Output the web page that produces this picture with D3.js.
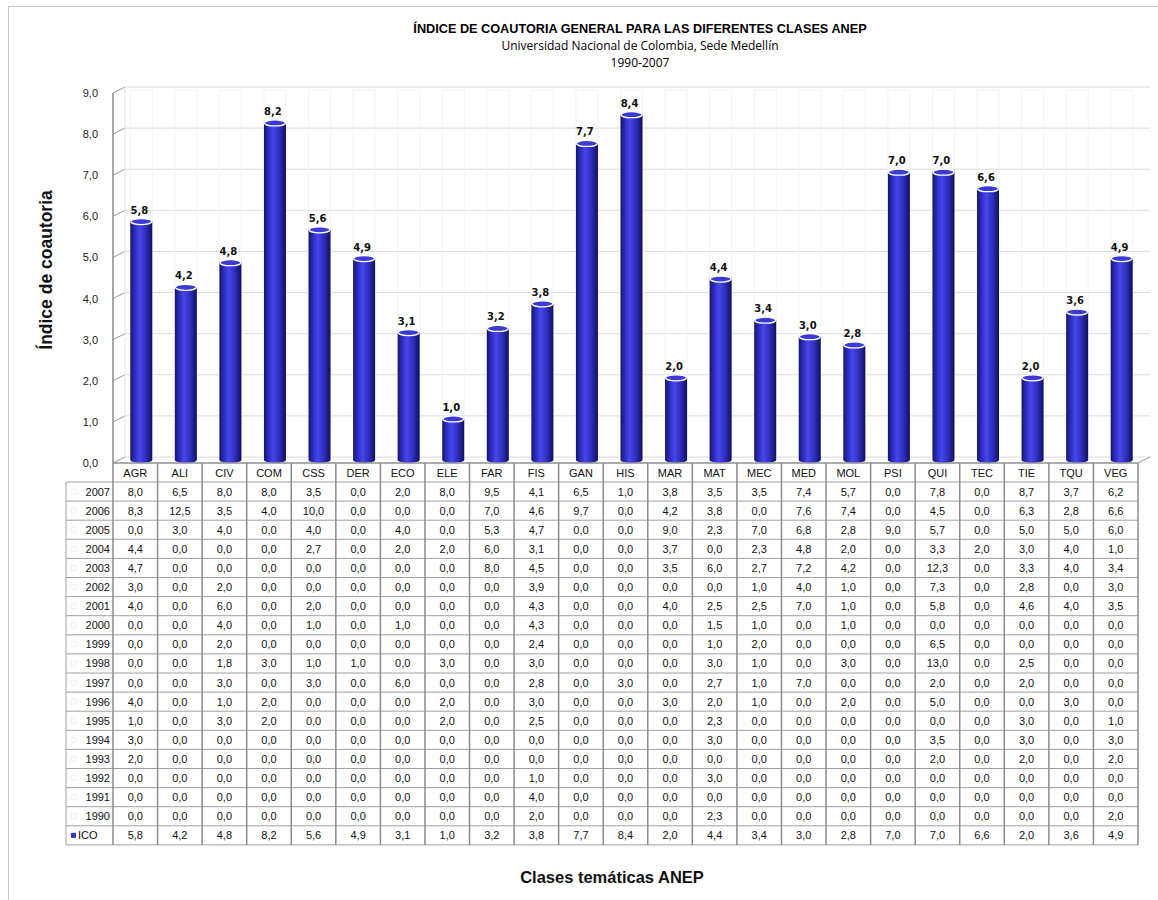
<!DOCTYPE html>
<html><head><meta charset="utf-8">
<script src="https://cdn.jsdelivr.net/npm/d3@7"></script>
<style>body{margin:0;background:#fff}svg{display:block}</style>
</head><body>
<svg id="c" width="1158" height="900"></svg>
<script>
const categories = ["AGR","ALI","CIV","COM","CSS","DER","ECO","ELE","FAR","FIS","GAN","HIS","MAR","MAT","MEC","MED","MOL","PSI","QUI","TEC","TIE","TQU","VEG"];
const ico = [5.8,4.2,4.8,8.2,5.6,4.9,3.1,1.0,3.2,3.8,7.7,8.4,2.0,4.4,3.4,3.0,2.8,7.0,7.0,6.6,2.0,3.6,4.9];
const years = ["2007","2006","2005","2004","2003","2002","2001","2000","1999","1998","1997","1996","1995","1994","1993","1992","1991","1990"];
const v2007 = [8.0,6.5,8.0,8.0,3.5,0.0,2.0,8.0,9.5,4.1,6.5,1.0,3.8,3.5,3.5,7.4,5.7,0.0,7.8,0.0,8.7,3.7,6.2];
const v2006 = [8.3,12.5,3.5,4.0,10.0,0.0,0.0,0.0,7.0,4.6,9.7,0.0,4.2,3.8,0.0,7.6,7.4,0.0,4.5,0.0,6.3,2.8,6.6];
const v2005 = [0.0,3.0,4.0,0.0,4.0,0.0,4.0,0.0,5.3,4.7,0.0,0.0,9.0,2.3,7.0,6.8,2.8,9.0,5.7,0.0,5.0,5.0,6.0];
const v2004 = [4.4,0.0,0.0,0.0,2.7,0.0,2.0,2.0,6.0,3.1,0.0,0.0,3.7,0.0,2.3,4.8,2.0,0.0,3.3,2.0,3.0,4.0,1.0];
const v2003 = [4.7,0.0,0.0,0.0,0.0,0.0,0.0,0.0,8.0,4.5,0.0,0.0,3.5,6.0,2.7,7.2,4.2,0.0,12.3,0.0,3.3,4.0,3.4];
const v2002 = [3.0,0.0,2.0,0.0,0.0,0.0,0.0,0.0,0.0,3.9,0.0,0.0,0.0,0.0,1.0,4.0,1.0,0.0,7.3,0.0,2.8,0.0,3.0];
const v2001 = [4.0,0.0,6.0,0.0,2.0,0.0,0.0,0.0,0.0,4.3,0.0,0.0,4.0,2.5,2.5,7.0,1.0,0.0,5.8,0.0,4.6,4.0,3.5];
const v2000 = [0.0,0.0,4.0,0.0,1.0,0.0,1.0,0.0,0.0,4.3,0.0,0.0,0.0,1.5,1.0,0.0,1.0,0.0,0.0,0.0,0.0,0.0,0.0];
const v1999 = [0.0,0.0,2.0,0.0,0.0,0.0,0.0,0.0,0.0,2.4,0.0,0.0,0.0,1.0,2.0,0.0,0.0,0.0,6.5,0.0,0.0,0.0,0.0];
const v1998 = [0.0,0.0,1.8,3.0,1.0,1.0,0.0,3.0,0.0,3.0,0.0,0.0,0.0,3.0,1.0,0.0,3.0,0.0,13.0,0.0,2.5,0.0,0.0];
const v1997 = [0.0,0.0,3.0,0.0,3.0,0.0,6.0,0.0,0.0,2.8,0.0,3.0,0.0,2.7,1.0,7.0,0.0,0.0,2.0,0.0,2.0,0.0,0.0];
const v1996 = [4.0,0.0,1.0,2.0,0.0,0.0,0.0,2.0,0.0,3.0,0.0,0.0,3.0,2.0,1.0,0.0,2.0,0.0,5.0,0.0,0.0,3.0,0.0];
const v1995 = [1.0,0.0,3.0,2.0,0.0,0.0,0.0,2.0,0.0,2.5,0.0,0.0,0.0,2.3,0.0,0.0,0.0,0.0,0.0,0.0,3.0,0.0,1.0];
const v1994 = [3.0,0.0,0.0,0.0,0.0,0.0,0.0,0.0,0.0,0.0,0.0,0.0,0.0,3.0,0.0,0.0,0.0,0.0,3.5,0.0,3.0,0.0,3.0];
const v1993 = [2.0,0.0,0.0,0.0,0.0,0.0,0.0,0.0,0.0,0.0,0.0,0.0,0.0,0.0,0.0,0.0,0.0,0.0,2.0,0.0,2.0,0.0,2.0];
const v1992 = [0.0,0.0,0.0,0.0,0.0,0.0,0.0,0.0,0.0,1.0,0.0,0.0,0.0,3.0,0.0,0.0,0.0,0.0,0.0,0.0,0.0,0.0,0.0];
const v1991 = [0.0,0.0,0.0,0.0,0.0,0.0,0.0,0.0,0.0,4.0,0.0,0.0,0.0,0.0,0.0,0.0,0.0,0.0,0.0,0.0,0.0,0.0,0.0];
const v1990 = [0.0,0.0,0.0,0.0,0.0,0.0,0.0,0.0,0.0,2.0,0.0,0.0,0.0,2.3,0.0,0.0,0.0,0.0,0.0,0.0,0.0,0.0,2.0];
const yearValues = [v2007,v2006,v2005,v2004,v2003,v2002,v2001,v2000,v1999,v1998,v1997,v1996,v1995,v1994,v1993,v1992,v1991,v1990];
const yTicks = [0,1,2,3,4,5,6,7,8,9];
const title = "ÍNDICE DE COAUTORIA GENERAL PARA LAS DIFERENTES CLASES ANEP";
const subtitle1 = "Universidad Nacional de Colombia, Sede Medellín";
const subtitle2 = "1990-2007";
const yTitle = "Índice de coautoria";
const xTitle = "Clases temáticas ANEP";

const fmt = v => d3.format(".1f")(v).replace(".", ",");
const svg = d3.select("#c");
const FONT = "'Liberation Sans', Arial, sans-serif";
const dx = 12, dy = -6;

const x = d3.scaleBand().domain(categories).range([113, 1138]).paddingInner(0).paddingOuter(0);
const y = d3.scaleLinear().domain([0, 9]).range([463, 93]);
const bw = x.bandwidth();

// outer frame
svg.append("rect").attr("x", 8.5).attr("y", 6.5).attr("width", 1160).attr("height", 900)
  .attr("fill", "#fff").attr("stroke", "#c8c8c8");

// titles
const cx0 = 640;
svg.append("text").attr("x", cx0).attr("y", 33).attr("text-anchor", "middle")
  .attr("font-family", "'Liberation Sans Narrow', 'Liberation Sans', sans-serif").attr("font-weight", "bold")
  .attr("font-size", 12.7).text(title);
svg.append("text").attr("x", cx0).attr("y", 50).attr("text-anchor", "middle")
  .attr("font-family", "'Open Sans', sans-serif").attr("font-size", 12).text(subtitle1);
svg.append("text").attr("x", cx0).attr("y", 67).attr("text-anchor", "middle")
  .attr("font-family", "'Open Sans', sans-serif").attr("font-size", 12).text(subtitle2);

// defs
const defs = svg.append("defs");
const g1 = defs.append("linearGradient").attr("id", "cyl").attr("x1", "0").attr("x2", "1").attr("y1", "0").attr("y2", "0");
[[0, "#15156e"], [0.22, "#2f2fc4"], [0.42, "#4646ec"], [0.7, "#2e2ebd"], [1, "#10105e"]].forEach(s =>
  g1.append("stop").attr("offset", s[0]).attr("stop-color", s[1]));

// back wall grid
const grid = svg.append("g");
yTicks.forEach(t => {
  grid.append("line").attr("x1", 113 + dx).attr("x2", 1138 + dx)
    .attr("y1", y(t) + dy).attr("y2", y(t) + dy).attr("stroke", "#dcdcdc").attr("stroke-width", 1);
  grid.append("line").attr("x1", 113).attr("x2", 113 + dx)
    .attr("y1", y(t)).attr("y2", y(t) + dy).attr("stroke", "#999").attr("stroke-width", 1);
  grid.append("text").attr("x", 98).attr("y", y(t) + 4).attr("text-anchor", "end")
    .attr("font-family", FONT).attr("font-size", 11).attr("fill", "#222").text(fmt(t));
});
grid.append("line").attr("x1", 113 + dx).attr("x2", 113 + dx).attr("y1", y(0) + dy).attr("y2", y(9) + dy)
  .attr("stroke", "#e4e4e4");
grid.append("line").attr("x1", 113).attr("x2", 113).attr("y1", y(0)).attr("y2", y(9))
  .attr("stroke", "#8a8a8a").attr("stroke-width", 1.5);
grid.append("line").attr("x1", 1138).attr("x2", 1138 + dx).attr("y1", y(0)).attr("y2", y(0) + dy)
  .attr("stroke", "#999");

// faint ghost cylinders
const ghost = svg.append("g");
categories.forEach(c => {
  const cx = x(c) + bw / 2 + dx / 2;
  ghost.append("rect").attr("x", cx - 11).attr("y", y(9) + dy / 2).attr("width", 22)
    .attr("height", y(0) - y(9)).attr("fill", "none").attr("stroke", "#f3f3f3");
});

// bars
const bars = svg.append("g");
categories.forEach((c, i) => {
  const v = ico[i];
  const cx = x(c) + bw / 2 + dx / 2;
  const rx = 11, ry = 3;
  const top = y(v) + dy / 2, bot = y(0) + dy / 2;
  bars.append("path")
    .attr("d", `M${cx - rx},${top} L${cx - rx},${bot} A${rx},${ry} 0 0 0 ${cx + rx},${bot} L${cx + rx},${top} Z`)
    .attr("fill", "url(#cyl)");
  bars.append("ellipse").attr("cx", cx).attr("cy", top).attr("rx", rx - 0.5).attr("ry", ry)
    .attr("fill", "#3a3ad6").attr("stroke", "#fff").attr("stroke-width", 1.3);
  bars.append("text").attr("x", cx - 2).attr("y", top - 8).attr("text-anchor", "middle")
    .attr("font-family", "'DejaVu Sans', Verdana, sans-serif").attr("font-weight", "bold")
    .attr("font-size", 10).attr("fill", "#111").text(fmt(v));
});

// data table
const tb = svg.append("g");
const tTop = 463, hH = 19, rH = 19.1, lblX0 = 66;
const rows = years.map((yr, i) => ({ label: yr, values: yearValues[i], key: false }))
  .concat([{ label: "ICO", values: ico, key: true }]);
const tBot = tTop + hH + rows.length * rH;
categories.forEach(c => {
  tb.append("text").attr("x", x(c) + bw / 2).attr("y", tTop + 14).attr("text-anchor", "middle")
    .attr("font-family", FONT).attr("font-size", 11).attr("fill", "#111").text(c);
});
rows.forEach((r, i) => {
  const y0 = tTop + hH + i * rH;
  if (r.key) {
    tb.append("rect").attr("x", 71).attr("y", y0 + rH / 2 - 2.5).attr("width", 5).attr("height", 5).attr("fill", "#3333cc");
    tb.append("text").attr("x", 78).attr("y", y0 + rH / 2 + 4).attr("font-family", FONT)
      .attr("font-size", 11).attr("fill", "#111").text(r.label);
  } else {
    tb.append("rect").attr("x", 71).attr("y", y0 + rH / 2 - 2.5).attr("width", 5).attr("height", 5)
      .attr("fill", "none").attr("stroke", "#f0f0f0");
    tb.append("text").attr("x", 110).attr("y", y0 + rH / 2 + 4).attr("text-anchor", "end")
      .attr("font-family", FONT).attr("font-size", 11).attr("fill", "#111").text(r.label);
  }
  r.values.forEach((v, j) => {
    const c = categories[j];
    tb.append("text").attr("x", x(c) + bw / 2).attr("y", y0 + rH / 2 + 4).attr("text-anchor", "middle")
      .attr("font-family", FONT).attr("font-size", 11).attr("fill", "#111").text(fmt(v));
  });
});
const lc = "#a0a0a0";
tb.append("line").attr("x1", 113).attr("x2", 1138).attr("y1", tTop).attr("y2", tTop).attr("stroke", "#909090").attr("stroke-width", 1.5);
for (let i = 0; i <= rows.length; i++) {
  const yy = tTop + hH + i * rH;
  tb.append("line").attr("x1", lblX0).attr("x2", 1138).attr("y1", yy).attr("y2", yy).attr("stroke", lc);
}
tb.append("line").attr("x1", lblX0).attr("x2", lblX0).attr("y1", tTop + hH).attr("y2", tBot).attr("stroke", lc);
categories.forEach(c => {
  tb.append("line").attr("x1", x(c)).attr("x2", x(c)).attr("y1", tTop).attr("y2", tBot).attr("stroke", "#8c8c8c").attr("stroke-width", 1.5);
});
tb.append("line").attr("x1", 1138).attr("x2", 1138).attr("y1", tTop).attr("y2", tBot).attr("stroke", "#8c8c8c").attr("stroke-width", 1.5);

// axis titles
svg.append("text").attr("transform", "translate(52,270) rotate(-90)").attr("text-anchor", "middle")
  .attr("font-family", FONT).attr("font-weight", "bold").attr("font-size", 17.5).attr("fill", "#111").text(yTitle);
svg.append("text").attr("x", 612).attr("y", 883).attr("text-anchor", "middle")
  .attr("font-family", FONT).attr("font-weight", "bold").attr("font-size", 16.5).attr("fill", "#111").text(xTitle);
</script>
</body></html>
